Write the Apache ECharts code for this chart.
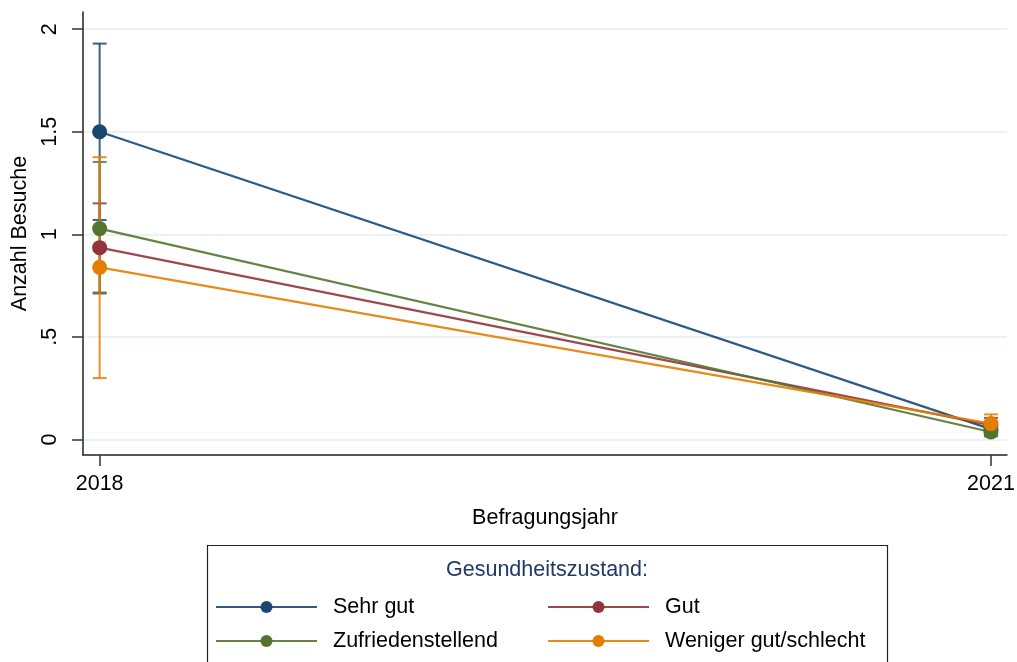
<!DOCTYPE html>
<html>
<head>
<meta charset="utf-8">
<script src="https://cdn.jsdelivr.net/npm/echarts@6/dist/echarts.min.js"></script>
<style>
html,body{margin:0;padding:0;background:#fff;}
#chart{width:1017px;height:662px;}
</style>
</head>
<body>
<div id="chart"></div>
<script>
// ---- data ----
const years = [2018, 2021];
const yTicks = [0, 0.5, 1, 1.5, 2];
const seriesNames = ['Sehr gut', 'Gut', 'Zufriedenstellend', 'Weniger gut/schlecht'];
const sehrGut    = [1.50, 0.050];
const sehrGutLo  = [1.07, 0.020];
const sehrGutHi  = [1.93, 0.080];
const gut        = [0.935, 0.070];
const gutLo      = [0.716, 0.035];
const gutHi      = [1.151, 0.105];
const zufrieden   = [1.028, 0.036];
const zufriedenLo = [0.711, 0.015];
const zufriedenHi = [1.353, 0.057];
const weniger    = [0.839, 0.077];
const wenigerLo  = [0.299, 0.030];
const wenigerHi  = [1.376, 0.122];

const colors = ['#1a476f', '#90353b', '#55752f', '#e37e00'];
const means = [sehrGut, gut, zufrieden, weniger];
const los = [sehrGutLo, gutLo, zufriedenLo, wenigerLo];
const his = [sehrGutHi, gutHi, zufriedenHi, wenigerHi];
const FONT = '"Liberation Sans", Arial, Helvetica, sans-serif';

const chart = echarts.init(document.getElementById('chart'));

const series = [];
// error bars
seriesNames.forEach((name, i) => {
  series.push({
    type: 'custom',
    name: name + ' CI',
    z: 2 + i,
    silent: true,
    renderItem: function (params, api) {
      const x = api.value(0);
      const p1 = api.coord([x, api.value(1)]);
      const p2 = api.coord([x, api.value(2)]);
      const hw = 7;
      const st = { stroke: colors[i], lineWidth: 2, opacity: 0.85 };
      return {
        type: 'group',
        children: [
          { type: 'line', shape: { x1: p1[0], y1: p1[1], x2: p2[0], y2: p2[1] }, style: st },
          { type: 'line', shape: { x1: p1[0] - hw, y1: p1[1], x2: p1[0] + hw, y2: p1[1] }, style: st },
          { type: 'line', shape: { x1: p2[0] - hw, y1: p2[1], x2: p2[0] + hw, y2: p2[1] }, style: st }
        ]
      };
    },
    encode: { x: 0, y: [1, 2] },
    data: years.map((yr, k) => [yr, los[i][k], his[i][k]])
  });
});
// lines with markers
seriesNames.forEach((name, i) => {
  series.push({
    type: 'line',
    name: name,
    z: 10 + i,
    symbol: 'circle',
    symbolSize: 15,
    color: colors[i],
    itemStyle: { color: colors[i] },
    lineStyle: { color: colors[i], width: 2.2, opacity: 0.9 },
    emphasis: { disabled: true },
    data: years.map((yr, k) => [yr, means[i][k]])
  });
});

function legendItem(name, left, top) {
  return {
    left: left, top: top, padding: 0,
    orient: 'horizontal',
    itemWidth: 101,
    itemHeight: 15,
    selectedMode: false,
    data: [name],
    textStyle: { fontFamily: FONT, fontSize: 21.5, color: '#000', padding: [0, 0, 0, 11] }
  };
}

chart.setOption({
  animation: false,
  backgroundColor: '#fff',
  grid: { left: 83, right: 10, top: 12, bottom: 207, outerBoundsMode: 'none', containLabel: false },
  xAxis: {
    type: 'value',
    min: 2017.944,
    max: 2021.054,
    name: 'Befragungsjahr',
    nameLocation: 'middle',
    nameGap: 52,
    nameTextStyle: { fontFamily: FONT, fontSize: 21.5, color: '#000' },
    axisLine: { show: true, onZero: false, lineStyle: { color: '#222', width: 1.5 } },
    axisTick: { show: true, length: 11, customValues: years, lineStyle: { color: '#333', width: 1.5 } },
    axisLabel: { customValues: years, fontFamily: FONT, fontSize: 21.5, color: '#000', margin: 18, formatter: v => String(v) },
    splitLine: { show: false }
  },
  yAxis: {
    type: 'value',
    min: -0.076,
    max: 2.084,
    name: 'Anzahl Besuche',
    nameLocation: 'middle',
    nameGap: 50,
    nameRotate: 90,
    nameTextStyle: { fontFamily: FONT, fontSize: 21.5, color: '#000' },
    axisLine: { show: true, onZero: false, lineStyle: { color: '#222', width: 1.5 } },
    axisTick: { show: true, length: 11, customValues: yTicks, lineStyle: { color: '#333', width: 1.5 } },
    axisLabel: {
      customValues: yTicks, rotate: 90, fontFamily: FONT, fontSize: 21.5, color: '#000', margin: 22,
      formatter: v => (v === 0 ? '0' : String(v).replace(/^0/, ''))
    },
    splitLine: { show: true, lineStyle: { color: '#eaf2f3', width: 2 } }
  },
  legend: [
    legendItem('Sehr gut', 215, 596),
    legendItem('Zufriedenstellend', 215, 630),
    legendItem('Gut', 547, 596),
    legendItem('Weniger gut/schlecht', 547, 630)
  ],
  graphic: [
    { type: 'rect', left: 205, top: 543, shape: { width: 680, height: 140 }, style: { fill: 'none', stroke: '#222', lineWidth: 1.2 }, z: 0 },
    { type: 'text', x: 547, y: 570, style: { text: 'Gesundheitszustand:', fontFamily: FONT, fontSize: 21.5, fill: '#1e3a66', align: 'center', verticalAlign: 'middle' } }
  ],
  series: series
});
</script>
</body>
</html>
